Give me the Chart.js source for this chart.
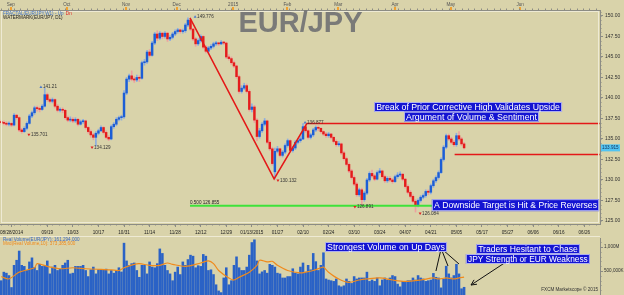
<!DOCTYPE html>
<html>
<head>
<meta charset="utf-8">
<script src="https://cdn.jsdelivr.net/npm/chart.js@4.4.0/dist/chart.umd.min.js"></script>
<style>
html, body { margin: 0; padding: 0; background: #d9d3aa; }
#wrap { position: relative; width: 624px; height: 295px; overflow: hidden; background: #d9d3aa; }
#priceChart { position: absolute; left: 0; top: 0; }
#volChart { position: absolute; left: 0; top: 236px; }
</style>
</head>
<body>
<div id="wrap">
  <canvas id="priceChart" width="624" height="236"></canvas>
  <canvas id="volChart" width="624" height="59"></canvas>
</div>
<script>
// daily EUR/JPY candles, one per trading day (index 0 = late Aug 2014)
const opens = [
  137.1,137.0,136.9,136.8,136.9,136.7,137.9,137.6,136.1,135.9,
  136.3,136.9,137.8,138.2,138.8,138.7,138.6,139.0,140.4,139.8,
  139.6,139.8,139.0,138.5,138.6,138.5,137.6,137.3,137.4,137.2,
  137.4,136.8,137.1,137.2,136.4,135.9,135.5,135.2,135.7,136.0,
  136.4,135.8,135.2,135.0,136.5,136.8,137.4,137.6,137.7,140.6,
  142.3,142.7,142.3,142.2,142.5,142.4,144.3,144.4,145.6,145.2,
  146.7,147.8,147.3,147.9,147.5,147.9,147.2,147.4,147.8,148.1,
  148.3,148.1,148.2,148.9,149.5,148.4,147.2,146.6,147.0,147.5,
  146.2,145.7,146.1,146.3,146.6,146.7,146.6,146.8,146.7,145.0,
  144.8,144.3,143.9,142.6,140.8,141.2,141.5,140.8,138.6,138.9,
  137.3,135.3,136.0,136.8,137.2,134.6,133.8,131.0,133.5,133.8,
  133.0,133.4,134.2,134.8,133.6,133.9,134.6,134.8,135.0,136.5,
  136.0,135.2,135.5,136.1,136.4,136.3,135.9,135.6,135.4,135.6,
  135.2,134.7,134.3,134.4,133.3,132.6,131.9,131.1,130.3,129.5,
  128.2,128.8,127.6,128.4,130.0,130.8,130.5,130.1,130.9,131.1,
  130.4,129.9,130.2,130.0,129.8,130.4,130.6,130.7,130.1,129.2,
  128.5,128.0,127.4,126.9,127.5,127.9,128.1,128.6,128.5,129.3,
  129.9,130.3,130.9,132.5,134.0,135.4,135.0,134.6,134.3,135.4,
  135.0,134.4
];
const highs = [
  137.3,137.2,137.1,137.1,137.0,138.1,138.0,137.7,136.3,136.5,
  137.1,138.0,138.4,139.0,139.0,138.9,139.2,141.21,140.6,140.0,
  140.0,139.9,139.2,138.8,138.8,138.6,137.8,137.7,137.6,137.6,
  137.5,137.3,137.4,137.3,136.5,136.1,135.7,135.9,136.2,136.6,
  136.5,136.0,135.4,136.7,137.0,137.6,137.8,137.9,140.9,142.5,
  142.9,143.3,142.6,142.8,142.7,144.5,144.7,145.8,145.9,146.9,
  148.0,148.2,148.1,148.0,148.1,148.0,147.6,148.0,148.3,148.5,
  148.4,148.4,149.1,149.776,149.6,148.5,147.4,147.2,147.7,147.6,
  146.4,146.3,146.5,146.8,146.9,146.8,147.0,146.9,146.8,145.3,
  145.0,144.5,144.0,142.8,141.5,141.8,141.7,141.0,139.3,139.1,
  137.5,136.3,137.0,137.5,137.3,134.8,134.0,133.9,134.1,133.9,
  133.6,134.4,135.0,134.9,134.1,134.8,135.0,135.3,136.877,136.7,
  136.1,135.7,136.3,136.6,136.6,136.4,136.0,135.8,135.8,135.7,
  135.3,134.9,134.7,134.5,133.5,132.8,132.1,131.3,130.5,129.7,
  129.0,129.0,128.6,130.2,131.0,131.2,130.7,131.1,131.4,131.2,
  130.6,130.4,130.4,130.2,130.6,130.9,131.0,130.8,130.2,129.4,
  128.7,128.2,127.6,127.7,128.1,128.3,128.8,128.8,129.5,130.1,
  130.5,131.1,132.7,134.2,135.6,135.6,135.2,134.8,135.7,135.9,
  135.2,134.6
];
const lows = [
  136.8,136.7,136.6,136.6,136.5,136.6,137.4,135.9,135.7,135.8,
  136.1,136.8,137.6,138.0,138.4,138.3,138.5,138.9,139.6,139.4,
  139.4,138.8,138.3,138.3,138.2,137.4,137.1,137.1,137.0,137.0,
  136.6,136.7,136.9,136.2,135.7,135.2,134.9,134.129,135.5,135.9,
  135.6,135.0,134.8,134.9,136.3,136.6,137.2,137.3,137.5,140.4,
  142.0,142.1,141.9,142.0,142.0,142.3,144.0,144.2,145.0,145.1,
  146.5,147.0,147.1,147.2,147.3,146.9,147.0,147.2,147.6,147.9,
  147.9,147.9,148.0,148.7,148.2,147.0,146.3,146.4,146.8,146.0,
  145.5,145.5,145.9,146.1,146.4,146.4,146.5,146.5,144.8,144.6,
  144.1,143.7,142.4,140.6,140.6,141.0,140.6,138.4,138.3,137.0,
  134.8,135.1,135.8,136.6,134.4,133.6,131.8,130.132,133.3,132.8,
  132.8,133.2,134.0,133.4,133.4,133.7,134.4,134.6,134.9,135.8,
  135.0,135.0,135.3,135.9,136.0,135.7,135.4,135.2,135.2,135.0,
  134.5,134.1,134.1,133.1,132.4,131.7,130.9,130.1,129.3,128.0,
  128.0,126.891,127.4,128.2,129.8,130.3,129.9,130.0,130.7,130.2,
  129.7,129.7,129.8,129.6,129.7,130.2,130.4,129.9,129.0,128.3,
  127.8,127.2,126.084,126.7,127.3,127.7,127.9,128.2,128.3,129.1,
  129.7,130.1,130.8,132.3,133.8,134.8,134.4,134.1,134.1,134.8,
  134.2,133.8
];
const closes = [
  137.0,136.9,136.8,136.9,136.7,137.9,137.6,136.1,135.9,136.3,
  136.9,137.8,138.2,138.8,138.7,138.6,139.0,140.4,139.8,139.6,
  139.8,139.0,138.5,138.6,138.5,137.6,137.3,137.4,137.2,137.4,
  136.8,137.1,137.2,136.4,135.9,135.5,135.2,135.7,136.0,136.4,
  135.8,135.2,135.0,136.5,136.8,137.4,137.6,137.7,140.6,142.3,
  142.7,142.3,142.2,142.5,142.4,144.3,144.4,145.6,145.2,146.7,
  147.8,147.3,147.9,147.5,147.9,147.2,147.4,147.8,148.1,148.3,
  148.1,148.2,148.9,149.5,148.4,147.2,146.6,147.0,147.5,146.2,
  145.7,146.1,146.3,146.6,146.7,146.6,146.8,146.7,145.0,144.8,
  144.3,143.9,142.6,140.8,141.2,141.5,140.8,138.6,138.9,137.3,
  135.3,136.0,136.8,137.2,134.6,133.8,132.0,133.5,133.8,133.0,
  133.4,134.2,134.8,133.6,133.9,134.6,134.8,135.0,136.5,136.0,
  135.2,135.5,136.1,136.4,136.3,135.9,135.6,135.4,135.6,135.2,
  134.7,134.3,134.4,133.3,132.6,131.9,131.1,130.3,129.5,128.2,
  128.8,127.6,128.4,130.0,130.8,130.5,130.1,130.9,131.1,130.4,
  129.9,130.2,130.0,129.8,130.4,130.6,130.7,130.1,129.2,128.5,
  128.0,127.4,126.9,127.5,127.9,128.1,128.6,128.5,129.3,129.9,
  130.3,130.9,132.5,134.0,135.4,135.0,134.6,134.3,135.4,135.0,
  134.4,133.915
];

// real volume, millions
const volumes = [
  298,476,455,405,156,618,724,916,618,596,
  511,689,774,575,511,639,596,611,710,440,
  582,618,511,539,618,667,724,440,455,596,
  596,596,618,511,384,525,582,440,525,525,
  525,539,440,511,455,511,568,480,1080,710,
  618,653,667,511,369,618,618,440,689,582,
  568,653,960,866,618,511,440,298,476,582,
  426,689,618,738,830,809,568,611,596,845,
  809,511,525,426,213,85,50,355,568,213,
  298,618,795,568,511,511,582,830,1093,1150,
  710,440,482,511,455,639,618,582,455,440,
  355,355,384,384,547,455,440,582,667,476,
  618,525,866,695,511,618,880,334,312,298,
  284,334,192,170,192,334,284,241,384,334,
  355,355,355,476,284,312,284,355,192,312,
  355,312,355,405,384,227,170,284,263,298,
  298,355,312,405,355,334,284,298,312,450,
  369,355,149,334,600,440,355,405,640,440,
  130,161
];
// 10 day moving average of volume
const maIdx = [0,3,7,13,14,18,23,28,33,39,43,46,48,52,54,58,62,65,67,72,78,81,83,85,89,91,93,97,100,101,
  104,106,108,112,117,119,122,125,126,128,132,136,140,143,148,153,158,164,169,171,174,177,179,181];
const maVals = [384,334,476,568,653,596,547,568,547,533,525,511,568,639,653,618,618,667,639,596,667,710,653,511,355,312,369,476,618,724,
  689,702,618,511,460,476,511,568,582,476,334,263,312,334,355,312,284,312,355,334,355,334,355,373];

// axes
const dateTickIdx = [4,18,28,38,48,58,68,78,88,98,108,118,128,138,148,158,168,178,188,198,208,218,228];
const dateLabels = ['08/28/2014','09/19','10/03','10/17','10/31','11/14','11/28','12/12','12/29','01/13/2015','01/27',
  '02/10','02/24','03/10','03/24','04/07','04/21','05/05','05/17','05/27','06/06','06/16','06/26'];
const monthIdx = [3.7,25.6,48.8,68.6,90.7,111.9,131.8,154,175.8,202.9];
const monthLabels = ['Sep','Oct','Nov','Dec','2015','Feb','Mar','Apr','May','Jun'];
const priceTicks = [125,127.5,130,132.5,135,137.5,140,142.5,145,147.5,150];
const volTicks = [500,1000];
const volTickLabels = ['500,000K','1,000M'];

// drawn studies
const zigzagIdx = [73.8,106.7,119.5,234];
const zigzagPrice = [149.776,130.132,136.877,136.877];
const levelIdx = [177.3,234];
const levelPrice = [133.1,133.1];
const fibIdx = [73.8,170];
const fibPrice = [126.855,126.855];
const pivotIdx = [15.5,10.8,35.5,75.8,108.2,118.8,138.3,163.8];
const pivotPrice = [141.21,135.701,134.129,149.776,130.132,136.877,126.891,126.084];
const pivotHigh = [true,false,false,true,false,true,false,false];

// callout boxes (price panel)
const noteText = ['Break of Prior Corrective High Validates Upside','Argument of Volume & Sentiment','A Downside Target is Hit & Price Reverses'];
const noteFrom = [145.8,157.5,168.4];
const noteTo = [219.3,210.3,233.8];
const noteAt = [138.9,137.71,126.93];
// callout boxes (volume panel)
const volNoteText = ['Strongest Volume on Up Days','Traders Hesitant to Chase','JPY Strength or EUR Weakness'];
const volNoteFrom = [126.6,185.7,181.7];
const volNoteTo = [174.3,226.3,230.2];
const volNoteAt = [1000,958,750];
const ptrFromIdx = [171.8,172.4,173.2,196.8];
const ptrFromVol = [917,917,917,667];
const ptrToIdx = [170,174.7,179,183.7];
const ptrToVol = [500,604,646,208];

const xMin = -0.5, xMax = 234.15;
const FONT = '"Liberation Sans", Arial, sans-serif';
Chart.defaults.font.family = FONT;

const upColor = '#1c5ed6', dnColor = '#e41c1c';

function drawNote(ctx, text, x1, x2, yc, h) {
  ctx.font = `10px ${FONT}`;
  const size = 10 * (x2 - x1 - 4) / ctx.measureText(text).width;
  ctx.fillStyle = '#1414d2';
  ctx.fillRect(x1, yc - h / 2, x2 - x1, h);
  ctx.strokeStyle = '#aeb0ee';
  ctx.lineWidth = 1;
  ctx.strokeRect(x1 + 0.5, yc - h / 2 + 0.5, x2 - x1 - 1, h - 1);
  ctx.font = `${size}px ${FONT}`;
  ctx.fillStyle = '#ffffff';
  ctx.textAlign = 'center';
  ctx.textBaseline = 'middle';
  ctx.fillText(text, (x1 + x2) / 2, yc + 0.5);
}

function smallText(ctx, text, px, py, color, align) {
  ctx.font = `4.6px ${FONT}`;
  ctx.fillStyle = color;
  ctx.textAlign = align || 'left';
  ctx.textBaseline = 'middle';
  ctx.fillText(text, px, py);
}

const priceDecor = {
  id: 'priceDecor',
  afterDraw(chart) {
    const { ctx, chartArea: a } = chart;
    const x = chart.scales.x, y = chart.scales.y;
    ctx.save();

    // pale frame round the plot
    ctx.strokeStyle = '#eeead4';
    ctx.lineWidth = 1;
    ctx.strokeRect(a.left + 1.5, a.top + 1.5, a.right - a.left - 3, a.bottom - a.top - 3);

    // ruler minor ticks
    ctx.strokeStyle = '#8c8c84';
    ctx.beginPath();
    for (let v = 0; v < xMax; v += 2.5) {
      const px = Math.round(x.getPixelForValue(v)) + 0.5;
      ctx.moveTo(px, a.top); ctx.lineTo(px, a.top - 1.5);
      ctx.moveTo(px, a.bottom); ctx.lineTo(px, a.bottom + 1.5);
    }
    for (let p = 125; p <= 150.6; p += 0.5) {
      const py = Math.round(y.getPixelForValue(p)) + 0.5;
      ctx.moveTo(a.right, py); ctx.lineTo(a.right + 1.5, py);
    }
    ctx.stroke();

    // title
    ctx.font = `bold 29px ${FONT}`;
    ctx.fillStyle = '#7a7a78';
    ctx.textAlign = 'center';
    ctx.textBaseline = 'alphabetic';
    ctx.fillText('EUR/JPY', 300.5, 32);

    // study legend
    smallText(ctx, 'FRACTAL(EUR/JPY,W1) - ', 3, 14, '#3d6fc4');
    ctx.font = `4.6px ${FONT}`;
    const w0 = ctx.measureText('FRACTAL(EUR/JPY,W1) - ').width;
    smallText(ctx, 'Up', 3 + w0, 14, '#3d6fc4');
    smallText(ctx, 'Dn', 3 + w0 + ctx.measureText('Up ').width + 1, 14, '#e02020');
    smallText(ctx, 'WATERMARK(EUR/JPY, D1)', 3, 18, '#222');

    // fractal pivots
    pivotIdx.forEach((v, i) => {
      const px = x.getPixelForValue(v);
      const py = y.getPixelForValue(pivotPrice[i]) + (pivotHigh[i] ? -1 : 1.5);
      ctx.fillStyle = pivotHigh[i] ? '#4a78cc' : '#e02020';
      ctx.beginPath();
      if (pivotHigh[i]) {
        ctx.moveTo(px, py - 1.5); ctx.lineTo(px - 1.5, py + 1); ctx.lineTo(px + 1.5, py + 1);
      } else {
        ctx.moveTo(px, py + 1.5); ctx.lineTo(px - 1.5, py - 1); ctx.lineTo(px + 1.5, py - 1);
      }
      ctx.fill();
      smallText(ctx, String(pivotPrice[i]), px + 2, py, '#333');
    });

    // fib label
    smallText(ctx, '0.500 126.855', x.getPixelForValue(fibIdx[0]), y.getPixelForValue(fibPrice[0]) - 3, '#222');

    // callouts
    noteText.forEach((t, i) => {
      const h = i === 2 ? 12 : 10;
      drawNote(ctx, t, x.getPixelForValue(noteFrom[i]), x.getPixelForValue(noteTo[i]), y.getPixelForValue(noteAt[i]), h);
    });

    // last price tag
    const last = closes[closes.length - 1];
    const ly = y.getPixelForValue(last);
    ctx.fillStyle = '#52c4f2';
    ctx.fillRect(a.right + 1, ly - 3.5, 19, 7);
    smallText(ctx, last.toFixed(3), a.right + 2, ly, '#14305a');
    ctx.restore();
  }
};

const volDecor = {
  id: 'volDecor',
  afterDraw(chart) {
    const { ctx, chartArea: a } = chart;
    const x = chart.scales.x, y = chart.scales.y;
    ctx.save();
    ctx.strokeStyle = '#eeead4';
    ctx.lineWidth = 1;
    ctx.beginPath();
    ctx.moveTo(0, 0.5); ctx.lineTo(a.right, 0.5);
    ctx.stroke();

    ctx.strokeStyle = '#8c8c84';
    ctx.beginPath();
    for (let v = 0; v <= 1150; v += 100) {
      const py = Math.round(y.getPixelForValue(v)) + 0.5;
      ctx.moveTo(a.right, py); ctx.lineTo(a.right + 1.5, py);
    }
    ctx.stroke();

    smallText(ctx, 'Real Volume(EUR/JPY): 161,294,000', 3, 3.5, '#3a68c0');
    smallText(ctx, 'Mvd(Real Volume,10): 373,385,600', 3, 8, '#f08a1c');
    smallText(ctx, 'FXCM Marketscope \u00a9 2015', a.right - 2, 54, '#333', 'right');

    // pointers
    ctx.strokeStyle = '#111';
    ctx.lineWidth = 1;
    ptrFromIdx.forEach((v, i) => {
      const x1 = x.getPixelForValue(v), y1 = y.getPixelForValue(ptrFromVol[i]);
      const x2 = x.getPixelForValue(ptrToIdx[i]), y2 = y.getPixelForValue(ptrToVol[i]);
      ctx.beginPath(); ctx.moveTo(x1, y1); ctx.lineTo(x2, y2); ctx.stroke();
      if (i === ptrFromIdx.length - 1) {
        const ang = Math.atan2(y2 - y1, x2 - x1);
        ctx.beginPath();
        ctx.moveTo(x2 - 6 * Math.cos(ang - 0.45), y2 - 6 * Math.sin(ang - 0.45));
        ctx.lineTo(x2, y2);
        ctx.lineTo(x2 - 6 * Math.cos(ang + 0.45), y2 - 6 * Math.sin(ang + 0.45));
        ctx.stroke();
      }
    });

    volNoteText.forEach((t, i) => {
      drawNote(ctx, t, x.getPixelForValue(volNoteFrom[i]), x.getPixelForValue(volNoteTo[i]), y.getPixelForValue(volNoteAt[i]), 10);
    });
    ctx.restore();
  }
};

const axisFont = { size: 4.6, family: FONT };

new Chart(document.getElementById('priceChart'), {
  type: 'bar',
  data: {
    datasets: [
      {
        type: 'line', order: 0,
        data: zigzagIdx.map((v, i) => ({ x: v, y: zigzagPrice[i] })),
        borderColor: '#e41818', borderWidth: 1.5, pointRadius: 0
      },
      {
        type: 'line', order: 0,
        data: levelIdx.map((v, i) => ({ x: v, y: levelPrice[i] })),
        borderColor: '#e41818', borderWidth: 1.5, pointRadius: 0
      },
      {
        type: 'line', order: 0,
        data: fibIdx.map((v, i) => ({ x: v, y: fibPrice[i] })),
        borderColor: '#3ee23a', borderWidth: 2, pointRadius: 0
      },
      {
        order: 1, grouped: false, barThickness: 1.8, minBarLength: 1,
        data: closes.map((c, i) => ({ x: i, y: [opens[i], c] })),
        backgroundColor: closes.map((c, i) => (c >= opens[i] ? upColor : dnColor))
      },
      {
        order: 2, grouped: false, barThickness: 1,
        data: highs.map((h, i) => ({ x: i, y: [lows[i], h] })),
        backgroundColor: closes.map((c, i) => (c >= opens[i] ? '#8eaee0' : '#eea0a0'))
      }
    ]
  },
  options: {
    responsive: false,
    animation: false,
    layout: { padding: 0 },
    plugins: { legend: { display: false }, tooltip: { enabled: false } },
    scales: {
      x: {
        type: 'linear', min: xMin, max: xMax, offset: false, position: 'bottom',
        afterBuildTicks: ax => { ax.ticks = dateTickIdx.map(v => ({ value: v })); },
        afterFit: ax => { ax.height = 12; ax.paddingLeft = 0; ax.paddingRight = 0; },
        grid: { drawOnChartArea: false, offset: false, tickLength: 3, color: '#8c8c84' },
        border: { color: '#8c8c84' },
        ticks: { autoSkip: false, maxRotation: 0, padding: 3, font: axisFont, color: '#222', callback: (v, i) => dateLabels[i] }
      },
      xm: {
        type: 'linear', min: xMin, max: xMax, offset: false, position: 'top',
        afterBuildTicks: ax => { ax.ticks = monthIdx.map(v => ({ value: v })); },
        afterFit: ax => { ax.height = 10; ax.paddingLeft = 0; ax.paddingRight = 0; },
        grid: { drawOnChartArea: false, offset: false, tickLength: 3, lineWidth: 2, color: '#f0a030' },
        border: { color: '#8c8c84' },
        ticks: { autoSkip: false, maxRotation: 0, padding: 0, font: axisFont, color: '#555', callback: (v, i) => monthLabels[i] }
      },
      y: {
        position: 'right', min: 124.63, max: 150.73,
        afterBuildTicks: ax => { ax.ticks = priceTicks.map(v => ({ value: v })); },
        afterFit: ax => { ax.width = 24; ax.paddingTop = 0; ax.paddingBottom = 0; },
        grid: { drawOnChartArea: false, tickLength: 3, color: '#8c8c84' },
        border: { color: '#8c8c84' },
        ticks: { autoSkip: false, padding: 2, font: { size: 5, family: FONT }, color: '#333', callback: v => v.toFixed(2) }
      }
    }
  },
  plugins: [priceDecor]
});

new Chart(document.getElementById('volChart'), {
  type: 'bar',
  data: {
    datasets: [
      {
        type: 'line', order: 0,
        data: maIdx.map((v, i) => ({ x: v, y: maVals[i] })),
        borderColor: '#f08a1c', borderWidth: 1.2, pointRadius: 0, tension: 0.3
      },
      {
        order: 1, grouped: false, barThickness: 1.9,
        data: volumes.map((v, i) => ({ x: i, y: v })),
        backgroundColor: '#2a62c6'
      }
    ]
  },
  options: {
    responsive: false,
    animation: false,
    layout: { padding: { top: 2, bottom: 0, left: 0, right: 0 } },
    plugins: { legend: { display: false }, tooltip: { enabled: false } },
    scales: {
      x: { type: 'linear', min: xMin, max: xMax, offset: false, display: false },
      y: {
        position: 'right', min: 0, max: 1187.5,
        afterBuildTicks: ax => { ax.ticks = volTicks.map(v => ({ value: v })); },
        afterFit: ax => { ax.width = 24; ax.paddingTop = 0; ax.paddingBottom = 0; },
        grid: { drawOnChartArea: false, tickLength: 3, color: '#8c8c84' },
        border: { color: '#8c8c84' },
        ticks: { autoSkip: false, padding: 1, font: axisFont, color: '#333', callback: (v, i) => volTickLabels[i] }
      }
    }
  },
  plugins: [volDecor]
});
</script>
</body>
</html>
